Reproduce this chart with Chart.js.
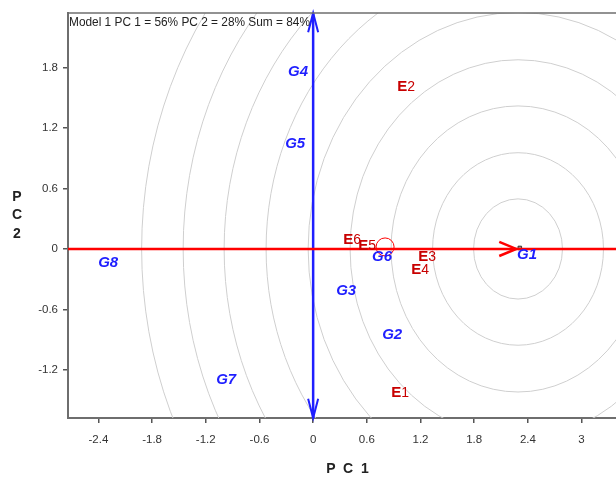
<!DOCTYPE html>
<html>
<head>
<meta charset="utf-8">
<script src="https://cdn.jsdelivr.net/npm/chart.js@4.4.1/dist/chart.umd.min.js"></script>
<style>
html,body{margin:0;padding:0;background:#fff;}
canvas{display:block;}
</style>
</head>
<body>
<canvas id="c" width="616" height="477"></canvas>
<script>
// ---- data ----
const titleText = 'Model 1 PC 1 = 56% PC 2 = 28% Sum = 84%';
const genotypes = ['G1','G2','G3','G4','G5','G6','G7','G8'];
const genoX = [2.391, 0.883, 0.369, -0.168, -0.201, 0.771, -0.972, -2.291];
const genoY = [-0.060, -0.853, -0.417, 1.756, 1.042, -0.079, -1.300, -0.139];
const envs = ['E1','E2','E3','E4','E5','E6'];
const envX = [0.972, 1.039, 1.274, 1.196, 0.603, 0.436];
const envY = [-1.428, 1.607, -0.079, -0.208, 0.030, 0.089];
const avgEnv = [0.804, 0.02];
const idealCenter = [2.29, 0];
const circleRadii = [0.497, 0.955, 1.419, 1.877, 2.346, 2.816, 3.285, 3.743, 4.207];
const xTicks = [-2.4, -1.8, -1.2, -0.6, 0, 0.6, 1.2, 1.8, 2.4, 3];
const yTicks = [-1.2, -0.6, 0, 0.6, 1.2, 1.8];
const xRange = [-2.74, 3.385];
const yRange = [-1.677, 2.341];
const aecLineX = [-2.74, 3.385];
const aecArrowX = [2.08, 2.27, 2.08];
const aecArrowY = [0.07, 0, -0.07];
const ordLineY = [-1.677, 2.341];
const ordArrowTopX = [-0.056, 0, 0.056];
const ordArrowTopY = [2.151, 2.341, 2.151];
const ordArrowBotX = [-0.056, 0, 0.056];
const ordArrowBotY = [-1.487, -1.677, -1.487];

const pts = (xs, ys) => xs.map((x, i) => ({x, y: ys[i]}));

const RED = '#ff0000';
const BLUE = '#1f1fff';
const FONT = '"Liberation Sans", Arial, sans-serif';

const circlesPlugin = {
  id: 'circles',
  beforeDatasetsDraw(chart) {
    const {ctx, chartArea: a, scales: {x, y}} = chart;
    ctx.save();
    ctx.beginPath();
    ctx.rect(a.left, a.top, a.right - a.left, a.bottom - a.top);
    ctx.clip();
    ctx.strokeStyle = '#cfcfcf';
    ctx.lineWidth = 1;
    const cx = x.getPixelForValue(idealCenter[0]);
    const cy = y.getPixelForValue(idealCenter[1]);
    circleRadii.forEach(r => {
      const rx = x.getPixelForValue(idealCenter[0] + r) - cx;
      const ry = cy - y.getPixelForValue(idealCenter[1] + r);
      ctx.beginPath();
      ctx.ellipse(cx, cy, rx, ry, 0, 0, Math.PI * 2);
      ctx.stroke();
    });
    ctx.restore();
  }
};

const labelsPlugin = {
  id: 'labels',
  afterDatasetsDraw(chart) {
    const {ctx} = chart;
    ctx.save();
    ctx.textBaseline = 'middle';
    const gm = chart.getDatasetMeta(0);
    ctx.fillStyle = BLUE;
    ctx.font = 'italic bold 15px ' + FONT;
    ctx.textAlign = 'center';
    gm.data.forEach((el, i) => ctx.fillText(genotypes[i], el.x, el.y));
    const em = chart.getDatasetMeta(1);
    ctx.fillStyle = '#c80000';
    ctx.textAlign = 'left';
    em.data.forEach((el, i) => {
      const lead = envs[i].slice(0, 1), rest = envs[i].slice(1);
      ctx.font = 'bold 15px ' + FONT;
      const w1 = ctx.measureText(lead).width;
      ctx.font = '14px ' + FONT;
      const w2 = ctx.measureText(rest).width;
      const x0 = el.x - (w1 + w2) / 2;
      ctx.font = 'bold 15px ' + FONT;
      ctx.fillText(lead, x0, el.y);
      ctx.font = '14px ' + FONT;
      ctx.fillText(rest, x0 + w1, el.y);
    });
    ctx.restore();
  },
  afterDraw(chart) {
    const {ctx, chartArea: a} = chart;
    ctx.save();
    ctx.strokeStyle = '#6e6e6e';
    ctx.lineWidth = 1.5;
    ctx.beginPath();
    ctx.moveTo(a.left, a.top);
    ctx.lineTo(a.right, a.top);
    ctx.stroke();
    ctx.fillStyle = '#222';
    ctx.font = '13.5px ' + FONT;
    ctx.textAlign = 'left';
    ctx.textBaseline = 'top';
    const tw = ctx.measureText(titleText).width;
    const sx = 241 / tw;
    ctx.translate(a.left + 1, a.top + 3);
    ctx.scale(sx, 1);
    ctx.fillText(titleText, 0, 0);
    ctx.restore();
    ctx.save();
    ctx.font = 'bold 14px ' + FONT;
    ctx.textAlign = 'center';
    ctx.textBaseline = 'middle';
    ctx.fillStyle = '#222';
    ['P', 'C', '1'].forEach((ch, i) => ctx.fillText(ch, 331 + i * 17, 469));
    ['P', 'C', '2'].forEach((ch, i) => ctx.fillText(ch, 17, 197 + i * 18.5));
    ctx.restore();
  }
};

new Chart(document.getElementById('c'), {
  type: 'scatter',
  data: {
    datasets: [
      {label: 'genotypes', data: pts(genoX, genoY), pointRadius: 0, showLine: false},
      {label: 'environments', data: pts(envX, envY), pointRadius: 0, showLine: false},
      {label: 'aec', data: pts(aecLineX, [0, 0]), showLine: true, borderColor: RED, borderWidth: 2.5, pointRadius: 0},
      {label: 'aecArrow', data: pts(aecArrowX, aecArrowY), showLine: true, borderColor: RED, borderWidth: 2.5, pointRadius: 0},
      {label: 'ord', data: pts([0, 0], ordLineY), showLine: true, borderColor: BLUE, borderWidth: 2.5, pointRadius: 0},
      {label: 'ordTop', data: pts(ordArrowTopX, ordArrowTopY), showLine: true, borderColor: BLUE, borderWidth: 2, pointRadius: 0},
      {label: 'ordBot', data: pts(ordArrowBotX, ordArrowBotY), showLine: true, borderColor: BLUE, borderWidth: 2, pointRadius: 0},
      {label: 'avgEnv', data: [{x: avgEnv[0], y: avgEnv[1]}], pointRadius: 9, pointBorderColor: RED, pointBackgroundColor: 'rgba(0,0,0,0)', pointBorderWidth: 1, showLine: false},
      {label: 'ideal', data: [{x: idealCenter[0] + 0.02, y: idealCenter[1] + 0.01}], pointStyle: 'rect', pointRadius: 2.5, pointBorderColor: '#333', pointBackgroundColor: '#999', pointBorderWidth: 1, showLine: false}
    ]
  },
  options: {
    responsive: false,
    animation: false,
    devicePixelRatio: 1,
    clip: false,
    layout: {autoPadding: false, padding: {top: 13, right: 0, left: 0, bottom: 0}},
    plugins: {legend: {display: false}, tooltip: {enabled: false}},
    scales: {
      x: {
        type: 'linear',
        min: xRange[0], max: xRange[1],
        afterBuildTicks(s) { s.ticks = xTicks.map(v => ({value: v})); },
        afterFit(s) { s.height = 59; s.paddingLeft = 0; s.paddingRight = 0; },
        grid: {drawOnChartArea: false, drawTicks: true, tickLength: 5, color: '#555', lineWidth: 1.5},
        border: {color: '#6e6e6e', width: 2},
        ticks: {color: '#333', padding: 10, font: {size: 11.5, family: FONT}, callback: v => String(Math.round(v * 10) / 10), maxRotation: 0, autoSkip: false}
      },
      y: {
        type: 'linear',
        min: yRange[0], max: yRange[1],
        afterBuildTicks(s) { s.ticks = yTicks.map(v => ({value: v})); },
        afterFit(s) { s.width = 68; s.paddingTop = 0; s.paddingBottom = 0; },
        grid: {drawOnChartArea: false, drawTicks: true, tickLength: 5, color: '#555', lineWidth: 1.5},
        border: {color: '#6e6e6e', width: 2},
        ticks: {color: '#333', padding: 5, font: {size: 11.5, family: FONT}, callback: v => String(Math.round(v * 10) / 10), autoSkip: false}
      }
    }
  },
  plugins: [circlesPlugin, labelsPlugin]
});
</script>
</body>
</html>
